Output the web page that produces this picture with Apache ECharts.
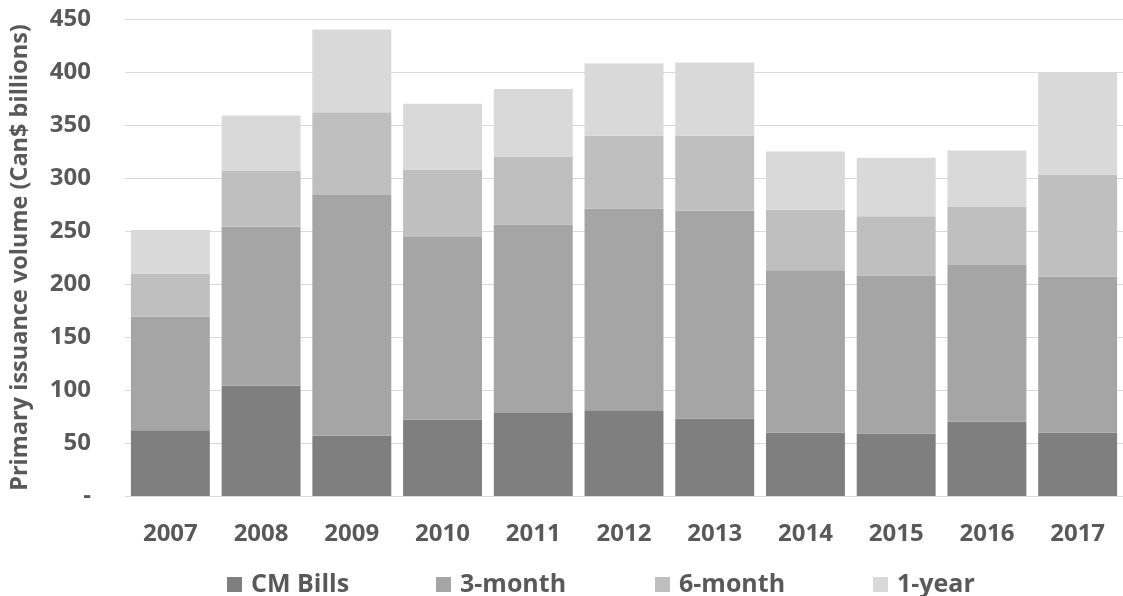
<!DOCTYPE html>
<html><head><meta charset="utf-8">
<script src="https://cdn.jsdelivr.net/npm/echarts@6/dist/echarts.min.js"></script>
<style>html,body{margin:0;padding:0;background:#fff}#c{width:1123px;height:596px}</style>
</head><body><div id="c"></div>
<script>
const years = ['2007','2008','2009','2010','2011','2012','2013','2014','2015','2016','2017'];
const cmBills = [62, 104, 57, 72, 79, 81, 73, 60, 59, 70, 60];
const month3 = [107, 150, 227, 173, 177, 190, 196, 153, 149, 148, 147];
const month6 = [41, 53, 78, 63, 64, 69, 71, 57, 56, 55, 96];
const year1 = [41, 52, 78, 62, 64, 68, 69, 55, 55, 53, 96];
const yTicks = [0, 50, 100, 150, 200, 250, 300, 350, 400, 450];
const seriesNames = ['CM Bills', '3-month', '6-month', '1-year'];
const seriesColors = ['#7f7f7f', '#a5a5a5', '#bfbfbf', '#d9d9d9'];

const font = 'Open Sans';
const txt = '#595959';
const mk = (i, data) => ({name:seriesNames[i], type:'bar', stack:'t', data, barCategoryGap:'13%',
  itemStyle:{color:seriesColors[i]}, emphasis:{disabled:true}});
const legendLefts = [222, 431, 650, 868];
const legends = seriesNames.map((n, i) => ({
  data:[n], left:legendLefts[i], top:567, itemWidth:15, itemHeight:15, icon:'rect',
  selectedMode:false,
  textStyle:{color:txt, fontFamily:font, fontWeight:'bold', fontSize:25, padding:[0,0,0,4]}
}));
const chart = echarts.init(document.getElementById('c'));
chart.setOption({
  animation:false,
  grid:{left:123, right:0, top:19, bottom:100},
  legend:legends,
  xAxis:{type:'category', data:years, axisTick:{show:false}, axisLine:{lineStyle:{color:'#d9d9d9'}},
    axisLabel:{color:txt, fontFamily:font, fontWeight:'bold', fontSize:24, margin:26}},
  yAxis:{type:'value', min:0, max:450, interval:50,
    name:'Primary issuance volume (Can$ billions)', nameLocation:'middle', nameGap:93,
    nameTextStyle:{color:txt, fontFamily:font, fontWeight:'bold', fontSize:23.5},
    splitLine:{lineStyle:{color:'#d9d9d9'}},
    axisLabel:{color:txt, fontFamily:font, fontWeight:'bold', fontSize:24, margin:34,
      formatter:v => yTicks.includes(v) ? (v===0?'-':String(v)) : ''}},
  series:[mk(0, cmBills), mk(1, month3), mk(2, month6), mk(3, year1)]
});
</script></body></html>
